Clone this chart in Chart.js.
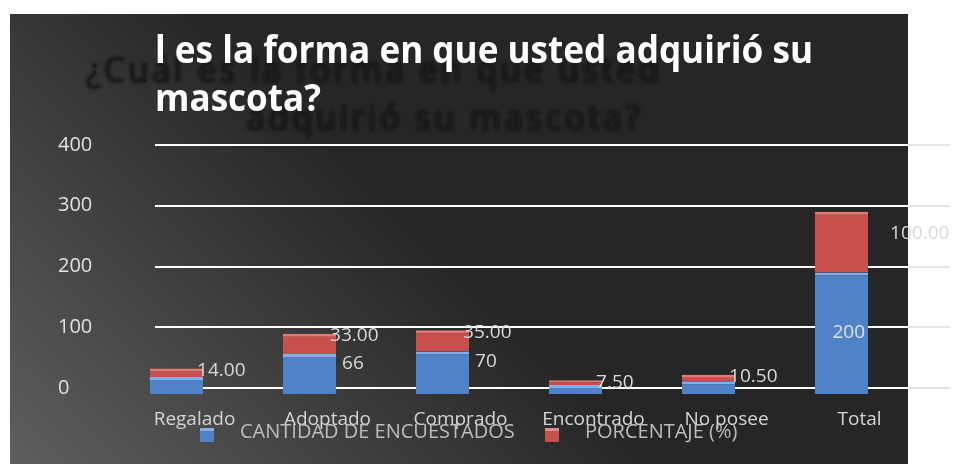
<!DOCTYPE html>
<html>
<head>
<meta charset="utf-8">
<script src="https://cdn.jsdelivr.net/npm/chart.js@4"></script>
<style>
  html, body { margin: 0; padding: 0; background: #fff; }
  #wrap { width: 958px; height: 464px; }
</style>
</head>
<body>
<div id="wrap"><canvas id="chartMascota"></canvas></div>
<script>
const categorias = ['Regalado', 'Adoptado', 'Comprado', 'Encontrado', 'No posee', 'Total'];
const cantidad = [28, 66, 70, 15, 21, 200];
const porcentaje = [14, 33, 35, 7.5, 10.5, 100];
const ticksY = [0, 100, 200, 300, 400];
const serieNombres = ['CANTIDAD DE ENCUESTADOS', 'PORCENTAJE (%)'];
const tituloVisible = ['l es la forma en que usted adquirió su', 'mascota?'];
const tituloSombra = ['¿Cuál es la forma en que usted', 'adquirió su mascota?'];

const azul = '#4f82c6';
const rojo = '#c8504c';
const FONT = '"Open Sans", "DejaVu Sans", sans-serif';
const DESFASE = 6; // las barras 3D caen un poco bajo la linea del cero

// fondo oscuro + titulos + lineas de division
const fondo = {
    id: 'fondo',
    beforeDraw(chart) {
        const c = chart.ctx;
        c.save();
        c.fillStyle = '#fff';
        c.fillRect(0, 0, chart.width, chart.height);
        const g = c.createLinearGradient(10, 464, 330, 140);
        g.addColorStop(0, '#5e5e5e');
        g.addColorStop(1, '#262626');
        c.fillStyle = g;
        c.fillRect(10, 14, 898, 450);

        // titulo sombra
        c.font = '34px ' + FONT;
        c.letterSpacing = '3px';
        c.fillStyle = '#1c1c1c';
        c.shadowColor = 'rgba(0,0,0,0.8)';
        c.shadowBlur = 4;
        c.textBaseline = 'middle';
        c.textAlign = 'left';
        c.fillText(tituloSombra[0], 86, 72, 690);
        c.fillText(tituloSombra[1], 246, 120, 420);
        c.shadowBlur = 0;
        c.letterSpacing = '0px';

        // titulo blanco
        c.font = 'bold 38px ' + FONT;
        c.fillStyle = '#ffffff';
        c.fillText(tituloVisible[0], 155, 52, 658);
        c.fillText(tituloVisible[1], 155, 100, 166);

        // grid
        const y = chart.scales.y;
        c.lineWidth = 2;
        ticksY.forEach(v => {
            const py = Math.round(y.getPixelForValue(v));
            c.strokeStyle = '#ffffff';
            c.beginPath(); c.moveTo(155, py); c.lineTo(908, py); c.stroke();
            c.strokeStyle = '#e4e4e4';
            c.beginPath(); c.moveTo(908, py); c.lineTo(950, py); c.stroke();
        });
        c.restore();
    },
    beforeDatasetsDraw(chart) {
        chart.ctx.save();
        chart.ctx.translate(0, DESFASE);
    },
    afterDatasetsDraw(chart) {
        chart.ctx.restore();
    },
    afterDraw(chart) {
        const c = chart.ctx;
        c.save();
        c.font = '19px ' + FONT;
        c.textBaseline = 'middle';
        c.textAlign = 'left';
        // etiquetas de datos (las cantidades en segmentos muy bajos no se ven)
        const m0 = chart.getDatasetMeta(0).data;
        const m1 = chart.getDatasetMeta(1).data;
        m0.forEach((el, i) => {
            const last = i === m0.length - 1;
            if (el.base - el.y < 30) return;
            c.fillStyle = last ? '#e0e0e0' : '#d9d9d9';
            const tx = last ? el.x - 9 : el.x + el.width / 2 + 6;
            const ty = (last ? el.y + 60 : el.y + 10) + DESFASE;
            c.fillText(String(cantidad[i]), tx, ty);
        });
        m1.forEach((el, i) => {
            c.fillStyle = '#d9d9d9';
            const last = i === m1.length - 1;
            const tx = el.x + el.width / 2 + (last ? 22 : -6);
            const ty = (last ? el.y + 22 : el.y + 2) + DESFASE;
            c.fillText(porcentaje[i].toFixed(2), tx, ty);
        });
        // leyenda
        const items = [[azul, 200, serieNombres[0], 240], [rojo, 545, serieNombres[1], 585]];
        items.forEach(([col, sx, txt, tx]) => {
            c.fillStyle = col;
            c.fillRect(sx, 428, 14, 14);
            c.fillStyle = 'rgba(255,255,255,0.35)';
            c.fillRect(sx, 428, 14, 3);
            c.fillStyle = '#bdbdbd';
            c.font = '20px ' + FONT;
            c.fillText(txt, tx, 432);
        });
        c.restore();
    }
};

const ctx = document.getElementById('chartMascota').getContext('2d');
const chartMascota = new Chart(ctx, {
    type: 'bar',
    data: {
        labels: categorias,
        datasets: [{
            label: serieNombres[0],
            data: cantidad,
            backgroundColor: azul,
            borderColor: '#7fb0ec',
            borderWidth: { top: 3, left: 0, right: 0, bottom: 0 },
            borderSkipped: false
        }, {
            label: serieNombres[1],
            data: porcentaje,
            backgroundColor: rojo,
            borderColor: '#e37a74',
            borderWidth: { top: 3, left: 0, right: 0, bottom: 0 },
            borderSkipped: false
        }]
    },
    options: {
        responsive: true,
        maintainAspectRatio: false,
        animation: false,
        layout: { padding: { left: 58, right: 50, top: 145, bottom: 0 } },
        categoryPercentage: 1,
        barPercentage: 0.4,
        plugins: {
            legend: { display: false },
            tooltip: { enabled: false }
        },
        scales: {
            x: {
                stacked: true,
                grid: { display: false },
                border: { display: false },
                ticks: {
                    color: '#d4d4d4',
                    font: { family: FONT, size: 19 },
                    padding: 12,
                    labelOffset: 18,
                    maxRotation: 0,
                    autoSkip: false
                },
                afterFit(s) { s.height = 76; }
            },
            y: {
                stacked: true,
                min: 0,
                max: 400,
                grid: { display: false },
                border: { display: false },
                afterBuildTicks(s) { s.ticks = ticksY.map(v => ({ value: v })); },
                ticks: {
                    color: '#e0e0e0',
                    font: { family: FONT, size: 20 },
                    crossAlign: 'far'
                },
                afterFit(s) { s.width = 52; }
            }
        }
    },
    plugins: [fondo]
});
</script>
</body>
</html>
